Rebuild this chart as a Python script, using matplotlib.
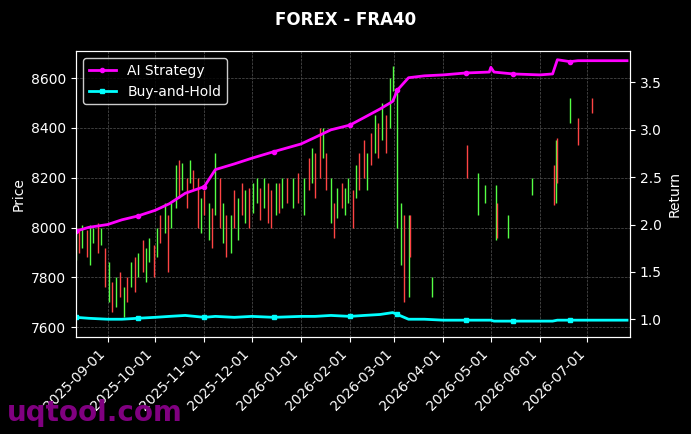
import matplotlib
matplotlib.use("Agg")
import matplotlib.pyplot as plt
import matplotlib.dates as mdates
import pandas as pd
import numpy as np

# candles: date, low, high, up(1)/down(0)
candle_dates = pd.to_datetime([
 "2025-08-12","2025-08-14","2025-08-16","2025-08-19","2025-08-21","2025-08-23","2025-08-26","2025-08-28","2025-08-30",
 "2025-09-02","2025-09-04","2025-09-06","2025-09-09","2025-09-11","2025-09-13","2025-09-16","2025-09-18","2025-09-20",
 "2025-09-23","2025-09-25","2025-09-27","2025-09-30","2025-10-02","2025-10-04","2025-10-07","2025-10-09","2025-10-11",
 "2025-10-14","2025-10-16","2025-10-18","2025-10-21","2025-10-23","2025-10-25","2025-10-28","2025-10-30","2025-11-01",
 "2025-11-04","2025-11-06","2025-11-08","2025-11-11","2025-11-13","2025-11-15","2025-11-18","2025-11-20","2025-11-22",
 "2025-11-25","2025-11-27","2025-11-29","2025-12-02","2025-12-04","2025-12-06","2025-12-09","2025-12-11","2025-12-13",
 "2025-12-16","2025-12-18","2025-12-20","2025-12-23","2025-12-27","2025-12-30","2026-01-03","2026-01-06","2026-01-08",
 "2026-01-10","2026-01-13","2026-01-15","2026-01-17","2026-01-20","2026-01-22","2026-01-24","2026-01-27","2026-01-29",
 "2026-01-31","2026-02-03","2026-02-05","2026-02-07","2026-02-10","2026-02-12","2026-02-14","2026-02-17","2026-02-19",
 "2026-02-21","2026-02-24","2026-02-26","2026-02-28","2026-03-03","2026-03-05","2026-03-07","2026-03-10","2026-03-11",
 "2026-03-25","2026-04-16","2026-04-23","2026-04-27","2026-05-04","2026-05-05","2026-05-12","2026-05-27",
 "2026-06-10","2026-06-11","2026-06-12","2026-06-20","2026-06-25","2026-07-04"])
candle_low = [7870,7900,7920,7880,7850,7940,7900,7930,7760,
 7700,7660,7680,7720,7640,7700,7760,7740,7800,
 7820,7780,7860,7800,7880,7940,7980,7820,8000,
 8080,8120,8150,8080,8180,8150,8000,7980,8050,
 7950,7920,8050,8000,7940,7880,7900,8000,7950,
 8050,8020,8000,8060,8100,8030,8080,8020,8000,
 8050,8060,8080,8100,8080,8100,8050,8150,8180,
 8120,8200,8280,8150,8020,7960,8040,8080,8050,
 8100,8000,8120,8150,8200,8150,8250,8300,8280,
 8350,8300,8400,8550,8000,7850,7700,7720,7880,
 7720,8200,8050,8100,7950,7960,7960,8130,
 8090,8100,8180,8420,8330,8460]
candle_high = [7980,8000,8010,7990,8010,8000,8020,8000,7920,
 7860,7780,7800,7820,7760,7800,7860,7880,7900,
 7950,7920,7960,7930,8000,8050,8100,8050,8100,
 8250,8270,8260,8200,8270,8230,8200,8120,8150,
 8100,8080,8300,8200,8100,8050,8050,8150,8120,
 8180,8150,8160,8180,8200,8160,8200,8180,8150,
 8180,8180,8200,8200,8200,8220,8200,8280,8320,
 8300,8400,8400,8300,8200,8100,8160,8180,8160,
 8200,8150,8250,8300,8350,8300,8380,8450,8420,
 8500,8450,8600,8650,8550,8100,8050,8050,8050,
 7800,8330,8220,8170,8170,8100,8050,8200,
 8250,8350,8360,8520,8440,8520]
candle_up = [1,0,1,0,1,1,0,1,0,
 1,0,1,0,1,0,1,0,1,
 0,1,1,0,1,0,1,0,1,
 1,0,1,0,1,0,0,1,0,
 1,0,1,0,1,0,1,0,1,
 0,1,0,1,1,0,1,0,0,
 1,0,1,0,1,0,1,0,1,
 0,0,1,0,1,0,1,0,1,
 1,0,1,0,0,1,0,1,0,
 1,0,1,1,1,1,0,1,0,
 1,0,1,1,1,0,1,1,
 0,1,0,1,0,0]

ret_dates = pd.to_datetime([
 "2025-08-12","2025-08-20","2025-09-01","2025-09-10","2025-09-20","2025-10-01","2025-10-10","2025-10-20",
 "2025-11-01","2025-11-08","2025-11-20","2025-12-01","2025-12-15","2026-01-01","2026-01-10","2026-01-20",
 "2026-02-01","2026-02-10","2026-02-20","2026-02-28","2026-03-03","2026-03-10","2026-03-20","2026-04-01",
 "2026-04-15","2026-04-30","2026-05-01","2026-05-03","2026-05-15","2026-06-01","2026-06-09","2026-06-12",
 "2026-06-20","2026-06-25","2026-07-10","2026-07-26"])
ai_ret = [1.93,1.97,2.00,2.05,2.09,2.15,2.22,2.33,2.40,2.58,2.64,2.70,2.77,2.85,2.92,3.00,
 3.05,3.13,3.22,3.30,3.42,3.55,3.57,3.58,3.60,3.61,3.66,3.61,3.59,3.58,3.59,3.74,
 3.72,3.73,3.73,3.73]
bh_ret = [1.02,1.01,1.00,1.00,1.01,1.02,1.03,1.04,1.02,1.03,1.02,1.03,1.02,1.03,1.03,1.04,
 1.03,1.04,1.05,1.07,1.05,1.00,1.00,0.99,0.99,0.99,0.99,0.98,0.98,0.98,0.98,0.99,
 0.99,0.99,0.99,0.99]

plt.rcParams['font.family'] = ['DejaVu Sans']
fig = plt.figure(figsize=(6.91, 4.34), dpi=100, facecolor='black')
ax = fig.add_axes([0.110, 0.223, 0.802, 0.659])
ax.set_facecolor('black')
for d, lo, hi, up in zip(candle_dates, candle_low, candle_high, candle_up):
    ax.vlines(d, lo, hi, color='#55ff44' if up else '#ff4444', lw=1.0)
ax.set_ylim(7560, 8708)
ax.set_xlim(pd.Timestamp("2025-08-12"), pd.Timestamp("2026-07-28"))
ax.set_ylabel("Price", color='white')
ax.grid(True, color='#555555', ls='--', lw=0.5)
ax2 = ax.twinx()
ax2.plot(ret_dates, ai_ret, color='#ff00ff', lw=2, marker='o', ms=3, markevery=4, label='AI Strategy')
ax2.plot(ret_dates, bh_ret, color='#00ffff', lw=2, marker='s', ms=3, markevery=4, label='Buy-and-Hold')
ax2.set_ylim(0.81, 3.83)
ax2.set_ylabel("Return", color='white')
for a in (ax, ax2):
    a.tick_params(colors='white')
    for s in a.spines.values():
        s.set_color('white')
ax.xaxis.set_major_locator(mdates.MonthLocator())
ax.xaxis.set_major_formatter(mdates.DateFormatter('%Y-%m-%d'))
plt.setp(ax.get_xticklabels(), rotation=45, ha='right')
leg = ax2.legend(loc='upper left', facecolor='black', edgecolor='white', labelcolor='white')
fig.suptitle("FOREX - FRA40", color='white', fontweight='bold', y=0.975)
fig.text(0.01, 0.03, "uqtool.com", color='#800080', fontsize=20, fontweight='bold')
fig.savefig("out.png", facecolor='black')
